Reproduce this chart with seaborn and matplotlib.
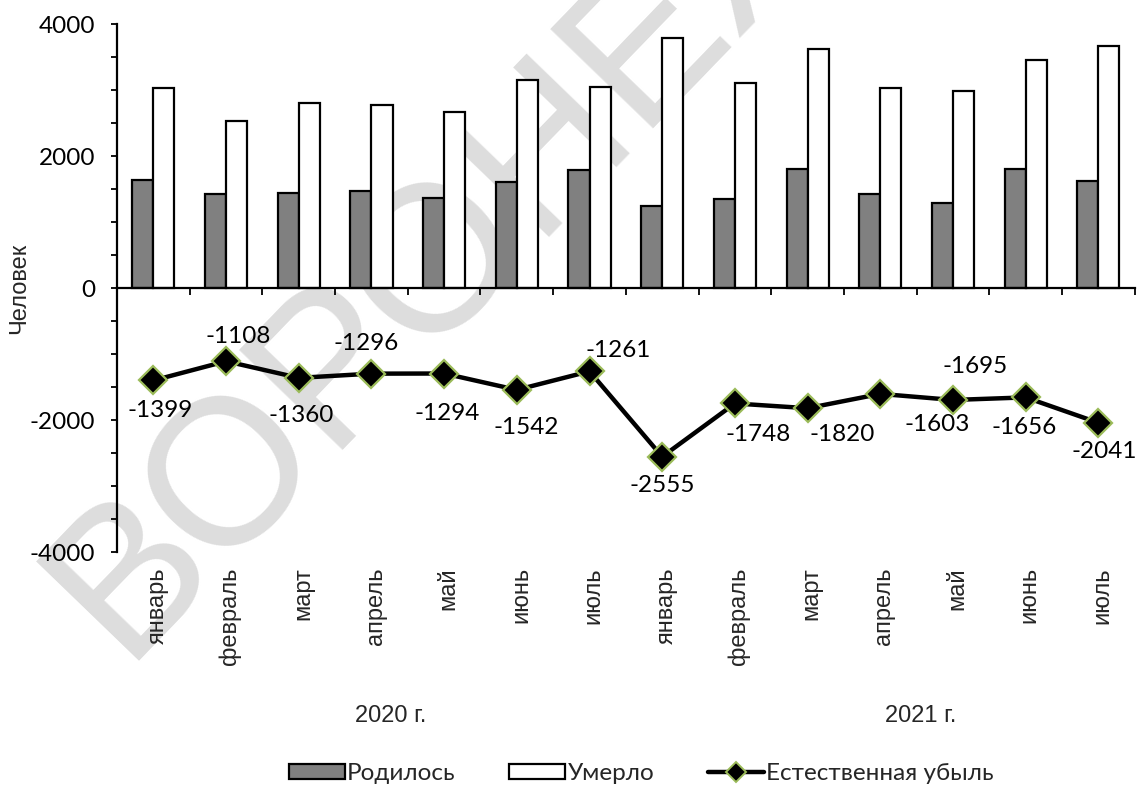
import numpy as np
import pandas as pd
import matplotlib
matplotlib.use('Agg')
import matplotlib.pyplot as plt
import seaborn as sns
from matplotlib.patches import Patch
from matplotlib.lines import Line2D

# data
months = ['январь', 'февраль', 'март', 'апрель', 'май', 'июнь', 'июль',
          'январь', 'февраль', 'март', 'апрель', 'май', 'июнь', 'июль']
year_labels = ['2020 г.', '2021 г.']
month_year = ['2020'] * 7 + ['2021'] * 7
born = [1640, 1425, 1440, 1480, 1372, 1608, 1790, 1240, 1358, 1810, 1428, 1293, 1810, 1627]
died = [3039, 2533, 2800, 2776, 2666, 3150, 3051, 3795, 3106, 3630, 3031, 2988, 3466, 3668]
decrease = [-1399, -1108, -1360, -1296, -1294, -1542, -1261, -2555, -1748, -1820, -1603, -1695, -1656, -2041]

# label offsets (points) for the data labels, as placed in the original
label_dx = [5, 9, 2, -4, 2, 7, 21, 0, 17, 25, 41, 16, -1, 4]
label_dy = [-22, 18, -27, 22, -29, -27, 15, -21, -22, -19, -22, 24, -22, -21]

periods = [m + ' ' + y for m, y in zip(months, month_year)]
df = pd.DataFrame({
    'period': periods * 2,
    'series': ['Родилось'] * len(periods) + ['Умерло'] * len(periods),
    'value': born + died,
})

sns.set_theme(style='white')
plt.rcParams['font.family'] = ['Liberation Sans', 'DejaVu Sans']

fig = plt.figure(figsize=(11.37, 7.87), dpi=100)
ax = fig.add_axes([0.1029, 0.2986, 0.8951, 0.6705])
ax.patch.set_visible(False)

# watermark behind the chart
fig.text(0.108, 0.160, 'ВОРОНЕЖ', fontsize=150, color='#dddddd',
         rotation=46, rotation_mode='anchor', ha='left', va='baseline',
         family=['Liberation Sans', 'DejaVu Sans'], zorder=-1)

sns.barplot(data=df, x='period', y='value', hue='series', order=periods,
            palette={'Родилось': '#808080', 'Умерло': 'white'},
            edgecolor='black', linewidth=1.6, width=0.58, gap=0,
            saturation=1, legend=False, ax=ax, zorder=2)

sns.lineplot(x=np.arange(len(decrease)), y=decrease, ax=ax, color='black',
             linewidth=3.2, marker='D', markersize=14,
             markerfacecolor='black', markeredgecolor='#9BBB59',
             markeredgewidth=1.6, zorder=3)

for i, v in enumerate(decrease):
    ax.annotate(str(v), (i, v), xytext=(label_dx[i], label_dy[i]),
                textcoords='offset points', ha='center', va='center',
                fontsize=17.5, family='Lato', color='black')

ax.set_xlim(-0.5, len(months) - 0.5)
ax.set_ylim(-4000, 4000)

# spines
for s in ['top', 'right']:
    ax.spines[s].set_visible(False)
ax.spines['bottom'].set_position(('data', 0))
for s in ['bottom', 'left']:
    ax.spines[s].set_linewidth(1.6)
    ax.spines[s].set_color('black')
ax.spines['bottom'].set_zorder(4)

ax.set_xticks(np.arange(-0.5, len(months), 1))
ax.set_xticklabels([])
ax.tick_params(axis='x', direction='out', length=5, width=1.3, colors='black', bottom=True)

ax.set_yticks([-4000, -2000, 0, 2000, 4000])
ax.set_yticklabels(['-4000', '-2000', '0', '2000', '4000'], family='Lato', fontsize=17.5)
ax.set_yticks(np.arange(-4000, 4001, 500), minor=True)
ax.tick_params(axis='y', which='both', direction='out', length=4.5, width=1.3,
               colors='black', left=True, pad=11)
ax.set_xlabel('')
ax.set_ylabel('Человек', fontsize=17)
ax.yaxis.set_label_coords(-0.085, 0.5)

# month labels under the plot area
for i, m in enumerate(months):
    ax.annotate(m, (i, -4000), xytext=(3, -11), textcoords='offset points',
                rotation=90, ha='center', va='top', fontsize=17)

# year labels
ax.annotate(year_labels[0], (3.27, -4000), xytext=(0, -118), textcoords='offset points',
            ha='center', va='center', fontsize=17)
ax.annotate(year_labels[1], (10.56, -4000), xytext=(0, -118), textcoords='offset points',
            ha='center', va='center', fontsize=17)

handles = [
    Patch(facecolor='#808080', edgecolor='black', linewidth=1.6),
    Patch(facecolor='white', edgecolor='black', linewidth=1.6),
    Line2D([0], [0], color='black', linewidth=3.2, marker='D', markersize=10,
           markerfacecolor='black', markeredgecolor='#9BBB59', markeredgewidth=1.4),
]
fig.legend(handles, ['Родилось', 'Умерло', 'Естественная убыль'],
           loc='center', bbox_to_anchor=(0.564, 0.017), ncol=3, frameon=False,
           prop={'family': 'Lato', 'size': 17.5}, handlelength=2.3, handleheight=0.6,
           handletextpad=0.1, columnspacing=2.2)

fig.savefig('out.png', dpi=100)
